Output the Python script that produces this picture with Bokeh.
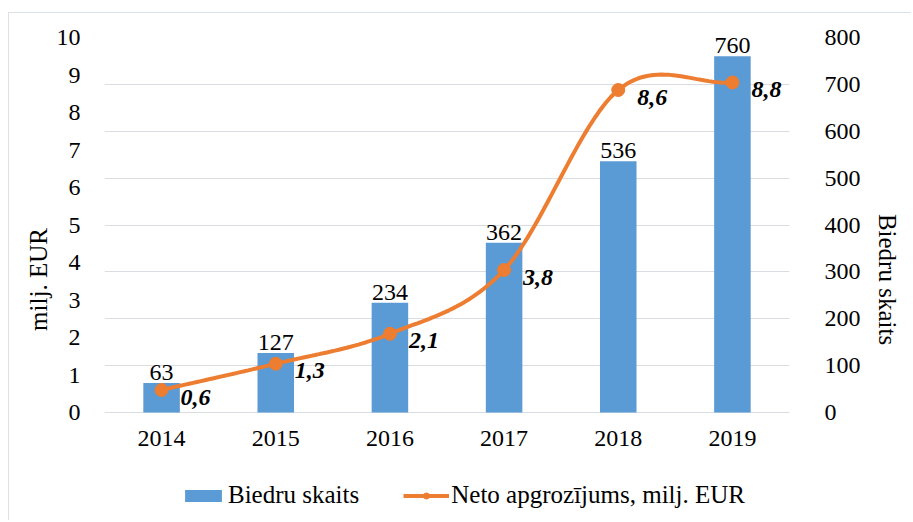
import numpy as np
from bokeh.plotting import figure
from bokeh.models import (ColumnDataSource, Range1d, LinearAxis, FixedTicker,
                          Legend, LegendItem, Title)
from bokeh.embed import file_html
from bokeh.resources import INLINE

# ---- data ----
years = ["2014", "2015", "2016", "2017", "2018", "2019"]
members = [63, 127, 234, 362, 536, 760]            # Biedru skaits (right axis)
turnover = [0.6, 1.3, 2.1, 3.8, 8.6, 8.8]           # Neto apgrozījums, milj. EUR (left axis)
turnover_labels = ["0,6", "1,3", "2,1", "3,8", "8,6", "8,8"]
left_ticks = list(range(0, 11))
right_ticks = list(range(0, 801, 100))

FONT = "Liberation Serif"
BAR_COLOR = "#5B9BD5"
LINE_COLOR = "#ED7D31"
GRID_COLOR = "#D9DCE3"

# layout (page pixels)
OFF_X, OFF_Y = 9, 13          # figure origin after margin + border
W, H = 903, 508
FR_L, FR_R, FR_T, AX0 = 104, 797, 37, 412   # frame left/right/top, y of value 0
FR_B = OFF_Y + H
LMAX, RMAX = 10, 800
px_per_l = (AX0 - FR_T) / LMAX
px_per_r = (AX0 - FR_T) / RMAX
l_lo = -(FR_B - AX0) / px_per_l
r_lo = -(FR_B - AX0) / px_per_r
frame_mid = (FR_T + FR_B) / 2

xs = list(range(len(years)))

p = figure(width=W, height=H, output_backend="svg", toolbar_location=None,
           x_range=Range1d(-0.5, len(years) - 0.5), y_range=Range1d(l_lo, LMAX),
           x_axis_location=None,
           min_border_left=FR_L - OFF_X, min_border_right=OFF_X + W - FR_R,
           min_border_top=FR_T - OFF_Y, min_border_bottom=0)
p.styles = {"margin-left": "8px", "margin-top": "12px",
            "border-top": "1px solid #DCE0E8", "border-left": "1px solid #DCE0E8"}
p.outline_line_color = None
p.background_fill_color = "white"
p.extra_y_ranges = {"right": Range1d(r_lo, RMAX)}

# bars
bar_src = ColumnDataSource(dict(x=xs, top=members, lab=[str(m) for m in members]))
bars = p.vbar(x="x", top="top", bottom=0, width=0.32, source=bar_src, y_range_name="right",
              fill_color=BAR_COLOR, line_color=None)
p.text(x="x", y="top", text="lab", source=bar_src, y_range_name="right",
       text_align="center", text_baseline="bottom", y_offset=-3,
       text_font={"value": FONT}, text_font_size="24px", text_color="#000000")

# category labels under the bars
yr_src = ColumnDataSource(dict(x=xs, y=[0] * len(xs), lab=years))
p.text(x="x", y="y", text="lab", source=yr_src, text_align="center",
       text_baseline="middle", y_offset=26,
       text_font={"value": FONT}, text_font_size="24px", text_color="#000000")

# smooth line (Catmull-Rom / Bezier through the data points)
def smooth(xv, yv, n=30):
    P = np.column_stack([xv, yv]).astype(float)
    m = len(P)
    T = np.zeros_like(P)
    for i in range(m):
        if i == 0:
            T[i] = P[1] - P[0]
        elif i == m - 1:
            T[i] = P[-1] - P[-2]
        else:
            T[i] = (P[i + 1] - P[i - 1]) / 2
    out = [P[0]]
    for i in range(m - 1):
        c1 = P[i] + T[i] / 3
        c2 = P[i + 1] - T[i + 1] / 3
        t = np.linspace(0, 1, n)[1:, None]
        seg = ((1 - t) ** 3) * P[i] + 3 * ((1 - t) ** 2) * t * c1 + 3 * (1 - t) * t ** 2 * c2 + t ** 3 * P[i + 1]
        out.extend(seg)
    out = np.array(out)
    return out[:, 0], out[:, 1]

sx, sy = smooth(xs, turnover)
line = p.line(sx, sy, line_color=LINE_COLOR, line_width=4)
line_src = ColumnDataSource(dict(x=xs, y=turnover, lab=turnover_labels))
pts = p.scatter(x="x", y="y", source=line_src, size=13, fill_color=LINE_COLOR,
                line_color=LINE_COLOR)
p.text(x="x", y="y", text="lab", source=line_src, text_align="left",
       text_baseline="middle", x_offset=19, y_offset=7,
       text_font={"value": FONT}, text_font_size="24px",
       text_font_style="bold italic", text_color="#000000")

# axes
p.yaxis.ticker = FixedTicker(ticks=left_ticks)
p.yaxis.bounds = (0, LMAX)
p.yaxis.axis_line_color = None
p.yaxis.major_tick_line_color = None
p.yaxis.minor_tick_line_color = None
p.yaxis.major_label_standoff = 18
p.yaxis.major_label_text_font = FONT
p.yaxis.major_label_text_font_size = "24px"
p.yaxis.major_label_text_color = "#000000"

ry = LinearAxis(y_range_name="right", ticker=FixedTicker(ticks=right_ticks),
                bounds=(0, RMAX))
ry.axis_line_color = None
ry.major_tick_line_color = None
ry.minor_tick_line_color = None
ry.major_label_standoff = 29
ry.major_label_text_font = FONT
ry.major_label_text_font_size = "24px"
ry.major_label_text_color = "#000000"
p.add_layout(ry, "right")

# axis titles (centred on the value span, not on the taller frame)
lt = Title(text="milj. EUR", align="center", offset=frame_mid - 222, standoff=4,
           text_font=FONT, text_font_size="25px", text_font_style="normal",
           text_color="#000000")
p.add_layout(lt, "left")
rt = Title(text="Biedru skaits", align="center", offset=205 - frame_mid, standoff=20,
           text_font=FONT, text_font_size="25px", text_font_style="normal",
           text_color="#000000")
p.add_layout(rt, "right")

p.xgrid.grid_line_color = None
p.ygrid.ticker = FixedTicker(ticks=[t / RMAX * LMAX for t in right_ticks])
p.ygrid.grid_line_color = GRID_COLOR
p.ygrid.grid_line_width = 1

legend = Legend(items=[LegendItem(label="Biedru skaits", renderers=[bars]),
                       LegendItem(label="Neto apgrozījums, milj. EUR", renderers=[line, pts])],
                orientation="horizontal", location=(180 - FR_L, FR_B - 509))
legend.label_text_font = FONT
legend.label_text_font_size = "25px"
legend.label_text_color = "#000000"
legend.glyph_width = 46
legend.glyph_height = 15
legend.spacing = 44
legend.border_line_color = None
legend.background_fill_alpha = 0
legend.margin = 0
legend.padding = 0
legend.label_standoff = 2
p.add_layout(legend, "center")

open("out.html", "w").write(file_html(p, INLINE))
